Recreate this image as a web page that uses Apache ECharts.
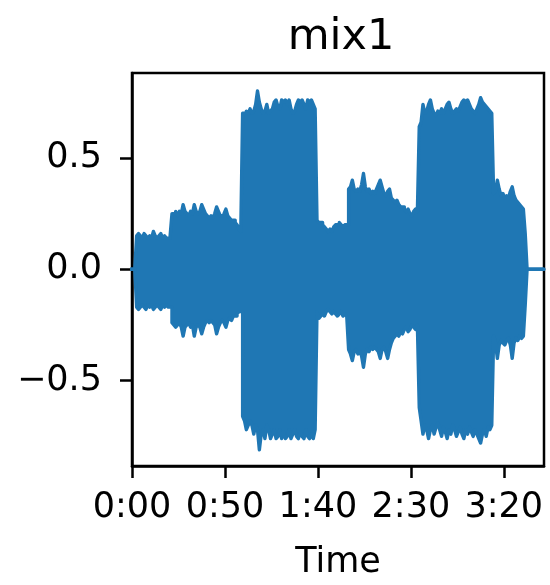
<!DOCTYPE html>
<html>
<head>
<meta charset="utf-8">
<script src="https://cdn.jsdelivr.net/npm/echarts@6/dist/echarts.min.js"></script>
<style>
html,body{margin:0;padding:0;background:#fff;}
#chart{width:550px;height:585px;}
</style>
</head>
<body>
<div id="chart"></div>
<script>
// Waveform envelope sampled once per second (t = index, seconds)
const upper = [
  0, 0, 0,
  0.15,0.16,0.15,0.14,0.16,0.15,0.14,0.15,0.14,0.17,0.15,0.14,0.15,0.16,0.14,0.15,0.14,0.14,0.15,
  0.25,0.25,0.26,0.24,0.26,0.25,0.29,0.26,0.25,0.24,0.26,0.25,0.29,0.26,0.25,0.26,0.29,0.27,0.25,0.24,
  0.23,0.24,0.23,0.25,0.28,0.26,0.24,0.24,0.25,0.27,0.24,0.23,0.22,0.22,0.21,0.20,0.18,0.17,
  0.70,0.70,0.71,0.70,0.72,0.70,0.71,0.74,0.80,0.75,0.72,0.70,0.71,0.74,0.70,0.71,0.72,0.75,0.76,0.73,
  0.72,0.76,0.75,0.76,0.74,0.76,0.72,0.70,0.71,0.74,0.76,0.75,0.76,0.74,0.72,0.76,0.75,0.76,0.74,0.72,
  0.22,0.21,0.21,0.20,0.19,0.18,0.17,0.18,0.17,0.19,0.20,0.20,0.21,0.20,0.19,0.20,0.20,
  0.36,0.37,0.40,0.36,0.35,0.36,0.35,0.38,0.43,0.37,0.35,0.36,0.34,0.35,0.34,0.36,0.38,0.40,0.37,0.34,
  0.33,0.35,0.36,0.32,0.31,0.30,0.31,0.29,0.28,0.28,0.27,0.26,0.27,0.25,0.24,0.26,0.27,0.26,
  0.64,0.66,0.74,0.70,0.71,0.74,0.76,0.72,0.70,0.69,0.71,0.70,0.72,0.70,0.72,0.74,0.75,0.72,0.70,0.71,
  0.72,0.71,0.73,0.75,0.76,0.75,0.76,0.74,0.72,0.71,0.70,0.72,0.74,0.77,0.75,0.74,0.73,0.72,0.71,0.70,
  0.34,0.35,0.40,0.36,0.33,0.34,0.32,0.33,0.32,0.35,0.37,0.33,0.31,0.30,0.29,0.28,0.27,0.16,0,
  0,0,0,0,0,0,0,0
];
const lower = [
  0, 0, 0,
  -0.17,-0.18,-0.17,-0.16,-0.17,-0.18,-0.16,-0.17,-0.16,-0.18,-0.17,-0.16,-0.17,-0.18,-0.16,-0.17,-0.16,-0.17,-0.17,
  -0.24,-0.25,-0.26,-0.25,-0.24,-0.26,-0.30,-0.26,-0.25,-0.24,-0.26,-0.25,-0.30,-0.26,-0.25,-0.26,-0.29,-0.26,-0.24,-0.23,
  -0.24,-0.23,-0.24,-0.25,-0.29,-0.26,-0.24,-0.23,-0.24,-0.26,-0.23,-0.22,-0.23,-0.21,-0.21,-0.20,-0.19,-0.19,
  -0.66,-0.68,-0.72,-0.70,-0.68,-0.70,-0.74,-0.70,-0.72,-0.81,-0.74,-0.72,-0.76,-0.70,-0.72,-0.76,-0.74,-0.72,-0.76,-0.75,
  -0.72,-0.76,-0.73,-0.76,-0.75,-0.72,-0.76,-0.74,-0.72,-0.75,-0.76,-0.73,-0.75,-0.76,-0.72,-0.75,-0.76,-0.74,-0.76,-0.72,
  -0.19,-0.22,-0.21,-0.20,-0.21,-0.19,-0.18,-0.19,-0.20,-0.19,-0.20,-0.21,-0.20,-0.19,-0.21,-0.20,-0.21,
  -0.36,-0.38,-0.41,-0.37,-0.36,-0.38,-0.37,-0.39,-0.44,-0.38,-0.36,-0.37,-0.35,-0.36,-0.35,-0.36,-0.37,-0.40,-0.36,-0.35,
  -0.37,-0.40,-0.36,-0.33,-0.31,-0.30,-0.29,-0.30,-0.28,-0.29,-0.27,-0.26,-0.28,-0.27,-0.25,-0.26,-0.27,-0.25,
  -0.62,-0.68,-0.74,-0.70,-0.72,-0.76,-0.72,-0.70,-0.74,-0.71,-0.69,-0.72,-0.75,-0.71,-0.73,-0.76,-0.72,-0.74,-0.70,-0.72,
  -0.75,-0.73,-0.71,-0.74,-0.76,-0.72,-0.74,-0.71,-0.73,-0.75,-0.72,-0.74,-0.76,-0.78,-0.74,-0.72,-0.75,-0.71,-0.72,-0.70,
  -0.30,-0.33,-0.40,-0.34,-0.32,-0.33,-0.34,-0.32,-0.31,-0.34,-0.40,-0.33,-0.31,-0.32,-0.30,-0.31,-0.30,-0.16,0,
  0,0,0,0,0,0,0,0
];
const xTicks = [0, 50, 100, 150, 200];
const xTickLabels = ['0:00', '0:50', '1:40', '2:30', '3:20'];
const yTicks = [-0.5, 0, 0.5];
const yTickLabels = ['\u22120.5', '0.0', '0.5'];
const title = 'mix1';
const xName = 'Time';

const C0 = '#1f77b4';
const FONT = 'DejaVu Sans';
// each one-second envelope value spans its bin [t-0.5, t+0.5]
const toSteps = arr => arr.flatMap((v, i) => [[i - 0.5, v], [i + 0.5, v]]);
const upData = toSteps(upper);
const loData = toSteps(lower);

const chart = echarts.init(document.getElementById('chart'), null, {renderer: 'canvas'});
chart.setOption({
  animation: false,
  backgroundColor: '#ffffff',
  title: {
    text: title,
    left: 336,
    textAlign: 'center',
    top: 11,
    textStyle: {fontFamily: FONT, fontSize: 43, fontWeight: 'normal', color: '#000'}
  },
  grid: {
    left: 132, right: 6, top: 73, bottom: 116,
    show: true, borderColor: '#000', borderWidth: 2.5, backgroundColor: 'transparent'
  },
  xAxis: {
    type: 'value',
    min: 0, max: 221.6,
    interval: 50,
    name: xName,
    nameLocation: 'middle',
    nameGap: 79,
    nameTextStyle: {fontFamily: FONT, fontSize: 35, color: '#000', verticalAlign: 'top'},
    axisLine: {show: true, onZero: false, lineStyle: {color: '#000', width: 2.5}},
    axisTick: {show: true, inside: false, length: 12, customValues: xTicks, lineStyle: {color: '#000', width: 2.5}},
    axisLabel: {
      show: true, margin: 24, customValues: xTicks,
      fontFamily: FONT, fontSize: 35, color: '#000',
      formatter: function (v) { const k = xTicks.indexOf(v); return k >= 0 ? xTickLabels[k] : ''; }
    },
    splitLine: {show: false}
  },
  yAxis: {
    type: 'value',
    min: -0.883, max: 0.881,
    axisLine: {show: true, onZero: false, lineStyle: {color: '#000', width: 2.5}},
    axisTick: {show: true, inside: false, length: 12, customValues: yTicks, lineStyle: {color: '#000', width: 2.5}},
    axisLabel: {
      show: true, margin: 30, customValues: yTicks,
      fontFamily: FONT, fontSize: 35, color: '#000',
      formatter: function (v) { const k = yTicks.indexOf(v); return k >= 0 ? yTickLabels[k] : ''; }
    },
    splitLine: {show: false}
  },
  series: [
    {
      type: 'line', data: upData, symbol: 'none', silent: true, clip: true,
      lineStyle: {color: C0, width: 3.4, join: 'round', cap: 'round'},
      areaStyle: {color: C0, opacity: 1, origin: -0.006}
    },
    {
      type: 'line', data: loData, symbol: 'none', silent: true, clip: true,
      lineStyle: {color: C0, width: 3.4, join: 'round', cap: 'round'},
      areaStyle: {color: C0, opacity: 1, origin: 0.006}
    }
  ]
});
</script>
</body>
</html>
